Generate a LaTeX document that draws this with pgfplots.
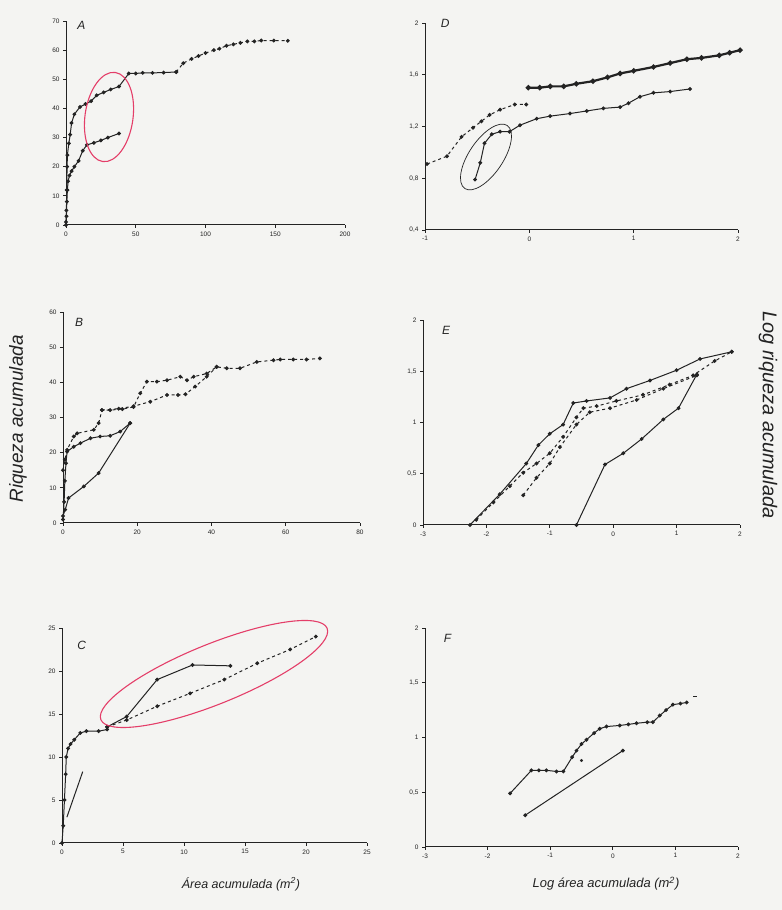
\documentclass[border=0pt]{standalone}
\usepackage{fontspec}
\setmainfont{Liberation Sans}
\usepackage{pgfplots}
\pgfplotsset{compat=1.18}
\definecolor{bg}{RGB}{244,244,242}
\definecolor{ink}{RGB}{35,35,35}
\definecolor{ellred}{RGB}{228,62,105}
\tikzset{lett/.style={font=\itshape\fontsize{12}{12}\selectfont, text=ink, anchor=north west, inner sep=0pt}}
\pgfplotsset{
  panel/.style={scale only axis, axis lines=left,
    axis line style={-, line width=1bp, draw=ink},
    tick align=outside, major tick length=3bp,
    tick style={line width=0.7bp, draw=ink},
    ticklabel style={font=\fontsize{6.5}{7}\selectfont, text=ink},
    /pgf/number format/assume math mode=true,
    /pgf/number format/use comma,
    clip=false, anchor=south west},
  ser/.style={line width=1bp, ink, mark=*, mark size=1.4bp, mark options={solid, fill=ink}},
  dser/.style={ser, dashed},
  plain/.style={line width=1bp, ink}
}
\begin{document}
\begin{tikzpicture}
\fill[bg] (0,0) rectangle (782bp,910bp);
\useasboundingbox (0,0) rectangle (782bp,910bp);

% ---------------- A
\begin{axis}[panel, at={(66bp,685bp)}, width=279bp, height=204bp,
  xmin=0, xmax=200, ymin=0, ymax=70, xtick={0,50,100,150,200}, ytick={0,10,...,70}]
\addplot[ser] coordinates {(0,1)(0.3,5)(0.5,12)(0.8,20)(1,24)(2,28)(3,31)(4,35)(6,38)(10,40.5)(14,41.5)(18,42.5)(22,44.5)(27,45.5)(32,46.5)(38,47.5)(45,52)(50,52)(55,52.2)(62,52.2)(70,52.3)(79,52.5)};
\addplot[dser] coordinates {(79,52.5)(84,55.5)(90,57)(95,58)(100,59)(106,60)(110,60.5)(115,61.5)(120,62)(125,62.5)(130,63)(135,63)(140,63.3)(149,63.3)(159,63.2)};
\addplot[ser] coordinates {(0,0)(0.3,3)(0.6,8)(1,12)(1.5,15)(2.5,17)(4,18.5)(6,20)(9,22)(12,25.5)(15,27.5)(20,28.2)(25,29)(30,30)(38,31.4)};
\node[lett] at (rel axis cs:0.04,1.0) {A};
\end{axis}

% ---------------- D
\begin{axis}[panel, at={(425bp,680bp)}, width=313bp, height=207bp,
  xmin=-1, xmax=2, ymin=0.4, ymax=2, xtick={-1,0,1,2}, ytick={0.4,0.8,1.2,1.6,2},
  yticklabel style={/pgf/number format/fixed, /pgf/number format/precision=1}]
\addplot[dser] coordinates {(-0.98,0.91)(-0.79,0.97)(-0.65,1.12)(-0.54,1.19)(-0.46,1.24)(-0.38,1.29)(-0.28,1.33)(-0.14,1.37)(-0.03,1.37)};
\addplot[ser, line width=2.2bp] coordinates {(-0.01,1.50)(0.1,1.50)(0.2,1.51)(0.33,1.51)(0.45,1.53)(0.61,1.55)(0.75,1.58)(0.87,1.61)(1.0,1.63)(1.19,1.66)(1.35,1.69)(1.51,1.72)(1.65,1.73)(1.82,1.75)(1.92,1.77)(2.02,1.79)};
\addplot[ser] coordinates {(-0.52,0.79)(-0.47,0.92)(-0.43,1.07)(-0.36,1.14)(-0.28,1.16)(-0.19,1.16)(-0.09,1.21)(0.07,1.26)(0.2,1.28)(0.39,1.30)(0.55,1.32)(0.71,1.34)(0.87,1.35)(0.95,1.38)(1.06,1.43)(1.19,1.46)(1.35,1.47)(1.54,1.49)};
\node[lett] at (rel axis cs:0.05,1.02) {D};
\end{axis}

% ---------------- B
\begin{axis}[panel, at={(63bp,387bp)}, width=297bp, height=211bp,
  xmin=0, xmax=80, ymin=0, ymax=60, xtick={0,20,40,60,80}, ytick={0,10,...,60}]
\addplot[dser] coordinates {(0,15)(0.5,18)(1.1,20.8)(2.9,24.6)(3.8,25.5)(8.3,26.5)(9.6,28.4)(10.5,32.1)(12.7,32.1)(16,32.4)(19,33)(20.8,36.9)(22.6,40.2)(25.3,40.2)(28,40.6)(31.6,41.6)(33.4,40.6)(35.2,41.6)(38.7,42.5)(41.4,44.4)(44.1,44)(47.7,44)(52.2,45.8)(56.7,46.3)(58.5,46.5)(62,46.5)(65.6,46.5)(69.2,46.8)};
\addplot[dser] coordinates {(10.5,32.1)(15,32.5)(19,33.2)(23.5,34.5)(28,36.4)(31,36.4)(33,36.6)(35.6,38.8)(38.7,41.6)(41.4,44.4)};
\addplot[ser] coordinates {(0,1)(0.3,6)(0.5,12)(0.8,17)(1.1,20.3)(2.9,21.7)(4.7,22.7)(7.4,24.1)(10,24.6)(12.7,24.8)(15.4,26)(18.1,28.4)};
\addplot[ser] coordinates {(0,2)(0.6,3.8)(1.5,7.1)(5.6,10.4)(9.6,14.2)(18.1,28.4)};
\node[lett] at (rel axis cs:0.04,0.97) {B};
\end{axis}

% ---------------- E
\begin{axis}[panel, at={(423bp,385bp)}, width=317bp, height=205bp,
  xmin=-3, xmax=2, ymin=0, ymax=2, xtick={-3,-2,-1,0,1,2}, ytick={0,0.5,1,1.5,2}]
\addplot[ser] coordinates {(-2.26,0)(-1.79,0.30)(-1.37,0.60)(-1.18,0.78)(-1.0,0.89)(-0.79,0.98)(-0.63,1.19)(-0.42,1.21)(-0.05,1.24)(0.21,1.33)(0.58,1.41)(1.0,1.51)(1.37,1.62)(1.87,1.69)};
\addplot[dser] coordinates {(-2.16,0.05)(-1.89,0.22)(-1.63,0.38)(-1.42,0.51)(-1.21,0.60)(-1.0,0.70)(-0.79,0.86)(-0.58,1.05)(-0.47,1.14)(-0.26,1.16)(0.05,1.21)(0.47,1.27)(0.89,1.37)(1.26,1.46)(1.6,1.6)(1.87,1.69)};
\addplot[dser] coordinates {(-1.42,0.29)(-1.21,0.46)(-1.0,0.60)(-0.84,0.76)(-0.58,0.98)(-0.37,1.10)(-0.05,1.14)(0.37,1.22)(0.79,1.33)(1.32,1.46)};
\addplot[ser] coordinates {(-0.58,0)(-0.13,0.59)(0.16,0.70)(0.45,0.84)(0.79,1.03)(1.03,1.14)(1.32,1.47)};
\node[lett] at (rel axis cs:0.06,0.97) {E};
\end{axis}

% ---------------- C
\begin{axis}[panel, at={(62bp,67bp)}, width=305bp, height=215bp,
  xmin=0, xmax=25, ymin=0, ymax=25, xtick={0,5,...,25}, ytick={0,5,...,25}]
\addplot[dser] coordinates {(3.7,13.5)(5.3,14.3)(7.8,15.9)(10.5,17.4)(13.3,19)(16,20.9)(18.7,22.5)(20.8,24)};
\addplot[ser] coordinates {(3.7,13.5)(5.3,14.7)(7.8,19)(10.7,20.7)(13.8,20.6)};
\addplot[ser] coordinates {(0,0)(0.1,2)(0.2,5)(0.3,8)(0.35,10)(0.5,11)(0.7,11.5)(1,12)(1.5,12.8)(2,13)(3,13)(3.7,13.2)};
\addplot[plain] coordinates {(0.4,3)(1.7,8.3)};
\node[lett] at (rel axis cs:0.05,0.94) {C};
\end{axis}

% ---------------- F
\begin{axis}[panel, at={(425bp,63bp)}, width=313bp, height=219bp,
  xmin=-3, xmax=2, ymin=0, ymax=2, xtick={-3,-2,-1,0,1,2}, ytick={0,0.5,1,1.5,2}]
\addplot[ser] coordinates {(-1.64,0.49)(-1.30,0.70)(-1.18,0.70)(-1.06,0.70)(-0.9,0.69)(-0.79,0.69)(-0.65,0.82)(-0.58,0.88)(-0.5,0.94)(-0.42,0.98)(-0.3,1.04)(-0.21,1.08)(-0.1,1.10)(0.11,1.11)(0.25,1.12)(0.38,1.13)(0.55,1.14)(0.64,1.14)(0.75,1.20)(0.85,1.25)(0.96,1.30)(1.08,1.31)(1.18,1.32)};
\addplot[ink, only marks, mark=-, mark size=2bp] coordinates {(1.31,1.38)};
\addplot[ink, only marks, mark=*, mark size=1.4bp] coordinates {(-0.5,0.79)};
\addplot[ser] coordinates {(-1.40,0.29)(0.16,0.88)};
\node[lett] at (rel axis cs:0.06,0.97) {F};
\end{axis}

% annotation ellipses
\draw[ellred, line width=1.1bp, rotate around={-8:(109bp,793bp)}] (109bp,793bp) ellipse [x radius=24bp, y radius=45bp];
\draw[ink, line width=0.7bp, rotate around={56:(486bp,753bp)}] (486bp,753bp) ellipse [x radius=38bp, y radius=17bp];
\draw[ellred, line width=1.1bp, rotate around={22:(214bp,236bp)}] (214bp,236bp) ellipse [x radius=122bp, y radius=30bp];

% axis titles
\node[rotate=90, font=\itshape\fontsize{19}{19}\selectfont, text=ink] at (18bp,491bp) {Riqueza acumulada};
\node[rotate=-90, font=\itshape\fontsize{20}{20}\selectfont, text=ink] at (768bp,495bp) {Log riqueza acumulada};
\node[font=\itshape\fontsize{12.5}{12.5}\selectfont, text=ink] at (241bp,26bp) {Área acumulada (m\textsuperscript{2})};
\node[font=\itshape\fontsize{13}{13}\selectfont, text=ink] at (606bp,26bp) {Log área acumulada (m\textsuperscript{2})};
\end{tikzpicture}
\end{document}
